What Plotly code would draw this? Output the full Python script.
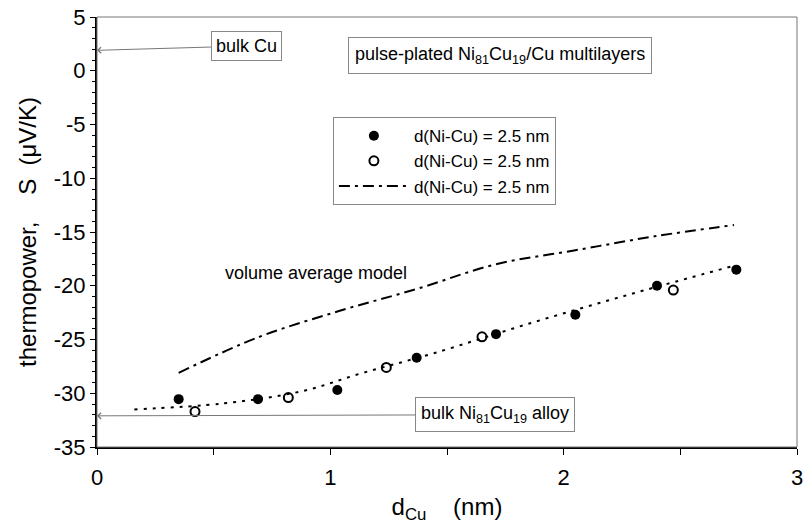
import plotly.graph_objects as go

# ---- data ----
d_filled = [0.35, 0.69, 1.03, 1.37, 1.71, 2.05, 2.40, 2.74]
S_filled = [-30.55, -30.55, -29.7, -26.7, -24.5, -22.7, -20.0, -18.5]

d_open = [0.42, 0.82, 1.24, 1.65, 2.47]
S_open = [-31.7, -30.4, -27.6, -24.75, -20.4]

d_model = [0.35, 0.69, 1.03, 1.37, 1.71, 2.05, 2.39, 2.73]
S_model = [-28.1, -24.8, -22.4, -20.3, -18.0, -16.7, -15.4, -14.35]

d_fit = [0.16, 0.54, 0.88, 1.14, 1.44, 1.87, 2.30, 2.72]
S_fit = [-31.5, -30.95, -29.8, -28.1, -26.3, -23.4, -20.7, -18.2]

S_bulk_Cu = 1.9
S_bulk_alloy = -32.1

legend_label = "d(Ni-Cu) = 2.5 nm"
x_ticks = [0, 1, 2, 3]
x_ticktext = ["0", "1", "2", "3"]
y_ticks = [-35, -30, -25, -20, -15, -10, -5, 0, 5]
y_ticktext = ["-35", "-30", "-25", "-20", "-15", "-10", "-5", "0", "5"]

FONT = "Liberation Sans, Arial, sans-serif"

fig = go.Figure()

fig.add_trace(go.Scatter(
    x=d_fit, y=S_fit, mode="lines", showlegend=False,
    line=dict(color="black", width=2, dash="3px,6px", shape="spline"),
))
fig.add_trace(go.Scatter(
    x=d_filled, y=S_filled, mode="markers", name=legend_label,
    marker=dict(symbol="circle", size=10, color="black"),
))
fig.add_trace(go.Scatter(
    x=d_open, y=S_open, mode="markers", name=legend_label,
    marker=dict(symbol="circle-open", size=9, color="black", line=dict(width=2)),
))
fig.add_trace(go.Scatter(
    x=d_model, y=S_model, mode="lines", name=legend_label,
    line=dict(color="black", width=2, dash="11px,5px,3px,5px", shape="spline"),
))

annotations = [
    dict(x=0, y=S_bulk_Cu, ax=0.639, ay=2.3, xref="x", yref="y",
         axref="x", ayref="y", text="bulk Cu", showarrow=True,
         arrowhead=4, arrowsize=1.2, arrowwidth=1, arrowcolor="#777",
         bordercolor="#888", borderwidth=1, borderpad=4,
         font=dict(size=18, color="black", family=FONT)),
    dict(x=0, y=S_bulk_alloy, ax=1.706, ay=-32.0, xref="x", yref="y",
         axref="x", ayref="y",
         text="bulk Ni<sub>81</sub>Cu<sub>19</sub> alloy", showarrow=True,
         arrowhead=4, arrowsize=1.2, arrowwidth=1, arrowcolor="#777",
         bordercolor="#888", borderwidth=1, borderpad=5,
         font=dict(size=18, color="black", family=FONT)),
    dict(x=1.729, y=1.4, xref="x", yref="y", showarrow=False,
         text="pulse-plated Ni<sub>81</sub>Cu<sub>19</sub>/Cu multilayers",
         bordercolor="#888", borderwidth=1, borderpad=6,
         font=dict(size=18, color="black", family=FONT)),
    dict(x=0.538, y=-18.85, xref="x", yref="y", showarrow=False,
         xanchor="left", text="volume average model",
         font=dict(size=18, color="black", family=FONT)),
]

fig.update_layout(
    width=809, height=524,
    margin=dict(l=97, r=12, t=17, b=77),
    paper_bgcolor="white", plot_bgcolor="white",
    font=dict(family=FONT, color="black"),
    showlegend=True,
    legend=dict(
        x=0.337, y=0.767, xanchor="left", yanchor="top",
        bgcolor="white", bordercolor="#888", borderwidth=1,
        font=dict(size=17, color="black", family=FONT),
        itemwidth=70,
    ),
    annotations=annotations,
    shapes=[dict(type="rect", xref="paper", yref="paper", x0=0, y0=0, x1=1, y1=1,
                 line=dict(color="#777", width=1), layer="above")],
)

fig.update_xaxes(
    range=[0, 3], tickvals=x_ticks, ticktext=x_ticktext, automargin=False,
    ticks="outside", ticklen=6, tickwidth=1, tickcolor="black",
    minor=dict(dtick=0.5, tick0=0, ticks="outside", ticklen=6, tickcolor="black"),
    showline=True, linecolor="black", linewidth=2, showgrid=False, zeroline=False,
    tickfont=dict(size=22, family=FONT), ticklabelstandoff=4,
    title=dict(text="d<sub>Cu</sub>\u00a0\u00a0\u00a0\u00a0(nm)", font=dict(size=24, family=FONT), standoff=14),
)
fig.update_yaxes(
    range=[-35, 5], tickvals=y_ticks, ticktext=y_ticktext, automargin=False,
    ticks="outside", ticklen=5, tickwidth=1, tickcolor="black",
    minor=dict(dtick=1, tick0=0, ticks="outside", ticklen=3, tickcolor="black"),
    showline=True, linecolor="black", linewidth=2, showgrid=False, zeroline=False,
    tickfont=dict(size=22, family=FONT),
    title=dict(text="thermopower,\u00a0\u00a0\u00a0\u00a0S\u00a0\u00a0(\u03bcV/K)", font=dict(size=24, family=FONT), standoff=10),
)

fig.write_html("out.html")
